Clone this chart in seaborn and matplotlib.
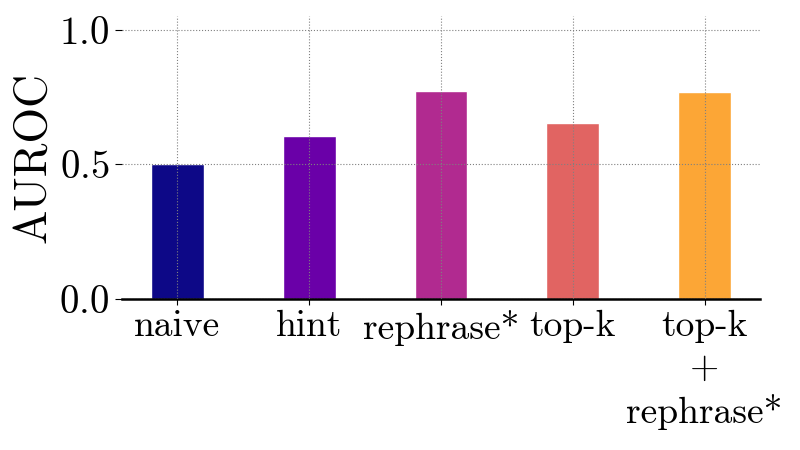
import matplotlib
matplotlib.use("Agg")
import matplotlib.pyplot as plt
import seaborn as sns
import pandas as pd
import numpy as np

categories = ["naive", "hint", "rephrase*", "top-k", "top-k\n+\nrephrase*"]
auroc = [0.50, 0.607, 0.774, 0.652, 0.767]
yticks = [0.0, 0.5, 1.0]

sns.set_style("white")
plt.rcParams["font.family"] = ["cmr10", "DejaVu Sans"]
plt.rcParams["mathtext.fontset"] = "cm"
plt.rcParams["axes.formatter.use_mathtext"] = True
plt.rcParams["text.color"] = "black"
plt.rcParams["axes.labelcolor"] = "black"
plt.rcParams["xtick.color"] = "black"
plt.rcParams["ytick.color"] = "black"

cmap = plt.get_cmap("plasma")
colors = [cmap(v) for v in np.linspace(0, 0.8, len(categories))]

df = pd.DataFrame({"method": categories, "AUROC": auroc})

fig, ax = plt.subplots(figsize=(8, 4.5), dpi=100)
fig.subplots_adjust(left=0.1525, right=0.95, bottom=0.3356, top=0.964)

sns.barplot(data=df, x="method", y="AUROC", hue="method", palette=colors,
            width=0.4, legend=False, ax=ax, saturation=1)

ax.set_xlim(-0.42, 4.42)
ax.set_ylim(0, 1.05)
ax.set_yticks(yticks)
ax.set_xlabel("")
ax.set_ylabel("AUROC", fontsize=33, labelpad=4, color="black")
ax.set_axisbelow(False)
ax.grid(True, linestyle=":", color="gray", linewidth=0.8)

for s in ["top", "right", "left"]:
    ax.spines[s].set_visible(False)
ax.spines["bottom"].set_color("black")
ax.spines["bottom"].set_linewidth(1.8)

ax.tick_params(axis="y", which="major", left=True, length=5, width=0.8,
               labelsize=28, pad=4, color="black", labelcolor="black")
ax.tick_params(axis="x", which="major", bottom=True, length=4, width=0.8,
               labelsize=27, pad=4, color="black", labelcolor="black")
for lab in ax.get_xticklabels():
    lab.set_linespacing(1.32)

fig.savefig("out.png", dpi=100)
